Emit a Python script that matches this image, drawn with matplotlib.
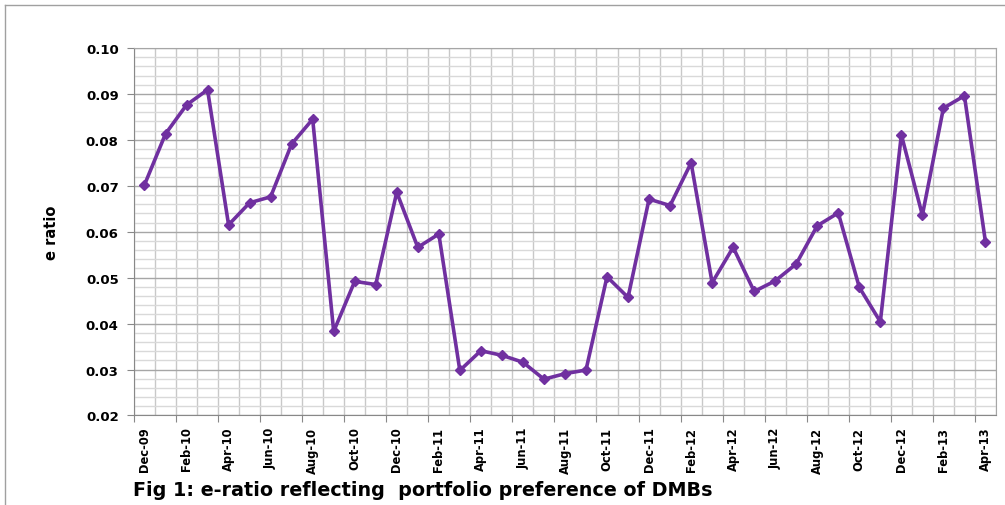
import matplotlib
matplotlib.use('Agg')
import matplotlib.pyplot as plt
from matplotlib.lines import Line2D
from matplotlib.ticker import MultipleLocator, FormatStrFormatter

months = ['Dec-09', 'Jan-10', 'Feb-10', 'Mar-10', 'Apr-10', 'May-10', 'Jun-10', 'Jul-10',
          'Aug-10', 'Sep-10', 'Oct-10', 'Nov-10', 'Dec-10', 'Jan-11', 'Feb-11', 'Mar-11',
          'Apr-11', 'May-11', 'Jun-11', 'Jul-11', 'Aug-11', 'Sep-11', 'Oct-11', 'Nov-11',
          'Dec-11', 'Jan-12', 'Feb-12', 'Mar-12', 'Apr-12', 'May-12', 'Jun-12', 'Jul-12',
          'Aug-12', 'Sep-12', 'Oct-12', 'Nov-12', 'Dec-12', 'Jan-13', 'Feb-13', 'Mar-13',
          'Apr-13']
e_ratio = [0.0702, 0.0813, 0.0876, 0.0909, 0.0615, 0.0663, 0.0676, 0.0791,
           0.0845, 0.0383, 0.0492, 0.0485, 0.0686, 0.0566, 0.0595, 0.0298,
           0.0341, 0.0331, 0.0316, 0.0279, 0.0291, 0.0299, 0.0502, 0.0457,
           0.0671, 0.0657, 0.0750, 0.0489, 0.0566, 0.0470, 0.0493, 0.0530,
           0.0613, 0.0641, 0.0479, 0.0404, 0.0811, 0.0636, 0.0869, 0.0896,
           0.0578]

purple = '#7030A0'

fig = plt.figure(figsize=(10.05, 5.06), dpi=100)
ax = fig.add_axes([0.1333, 0.1769, 0.8577, 0.7263])

x = list(range(len(months)))
ax.plot(x, e_ratio, color=purple, linewidth=2.6, marker='D', markersize=5.5, zorder=3)

ax.set_xlim(-0.5, len(months) - 0.5)
ax.set_ylim(0.02, 0.10)

# y axis
ax.yaxis.set_major_locator(MultipleLocator(0.01))
ax.yaxis.set_minor_locator(MultipleLocator(0.002))
ax.yaxis.set_major_formatter(FormatStrFormatter('%.2f'))
ax.tick_params(axis='y', which='major', length=5, color='#888888', labelsize=9.5, pad=6)
ax.tick_params(axis='y', which='minor', length=0)
for lab in ax.get_yticklabels():
    lab.set_fontweight('bold')
ax.grid(axis='y', which='major', color='#a6a6a6', linewidth=1.0)
ax.grid(axis='y', which='minor', color='#d9d9d9', linewidth=1.0)

# x axis: labels at every second month, grid at category boundaries
ax.set_xticks(x[::2])
ax.set_xticklabels(months[::2], rotation=90, fontsize=8.3, fontweight='bold')
ax.set_xticks([i - 0.5 for i in range(len(months) + 1)], minor=True)
ax.tick_params(axis='x', which='both', length=0, pad=8)
ax.grid(axis='x', which='minor', color='#c8c8c8', linewidth=1.0)

sec = ax.secondary_xaxis('bottom')
sec.set_xticks([i - 0.5 for i in range(0, len(months) + 1, 2)])
sec.set_xticklabels([])
sec.tick_params(length=5, color='#888888')
sec.spines['bottom'].set_visible(False)

ax.set_axisbelow(True)
for side in ['top', 'right']:
    ax.spines[side].set_color('#a6a6a6')
for side in ['left', 'bottom']:
    ax.spines[side].set_color('#888888')

ax.set_ylabel('e ratio', fontsize=10.5, fontweight='bold', labelpad=19)

fig.text(0.132, 0.02, 'Fig 1: e-ratio reflecting  portfolio preference of DMBs',
         fontsize=13.8, fontweight='bold', family='DejaVu Sans')

# outer chart border
fig.add_artist(Line2D([0.005, 0.005], [0, 0.988], color='#a0a0a0', linewidth=1))
fig.add_artist(Line2D([0.005, 1.0], [0.988, 0.988], color='#a0a0a0', linewidth=1))

fig.savefig('out.png', dpi=100)
